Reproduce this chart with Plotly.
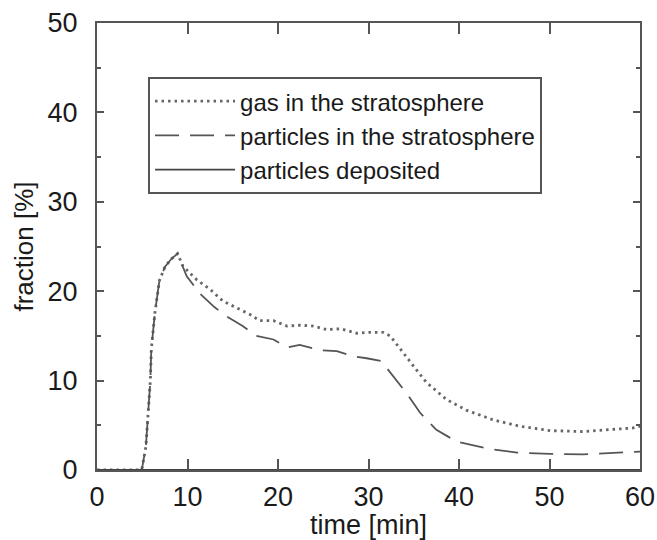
import plotly.graph_objects as go

# ---- data ----
t_gas = [0, 4.9, 5.0, 5.4, 5.9, 6.0, 6.4, 6.9, 7.5, 8.2, 8.9, 9.5, 11.0, 12.5, 13.9,
         15.8, 16.9, 18.0, 19.5, 21.0, 22.4, 23.9, 25.4, 26.9, 28.7, 30.0, 31.6,
         32.4, 33.8, 35.3, 36.4, 38.6, 40.8, 43.8, 46.7, 50.1, 53.7, 56.7, 59.2, 60]
gas_strat = [0, 0, 0.3, 2.6, 10.1, 13.5, 17.6, 21.2, 22.7, 23.6, 24.2, 22.8, 21.3, 20.2,
             18.9, 18.0, 17.4, 16.7, 16.7, 16.1, 16.2, 16.1, 15.7, 15.8, 15.3, 15.4,
             15.4, 15.0, 13.1, 11.2, 9.8, 7.9, 6.7, 5.6, 4.9, 4.4, 4.3, 4.5, 4.7, 4.9]

t_part = [0, 4.9, 5.0, 5.4, 5.9, 6.0, 6.4, 6.9, 7.5, 8.2, 8.9, 9.9, 11.4, 13.0, 14.3,
          16.1, 17.6, 19.5, 21.0, 22.4, 24.6, 26.5, 28.3, 29.8, 31.4, 32.7, 34.2,
          35.7, 37.5, 39.7, 43.1, 46.4, 50.1, 53.7, 57.4, 60]
part_strat = [0, 0, 0.3, 2.6, 10.1, 13.5, 17.6, 21.2, 22.7, 23.6, 24.2, 21.7, 19.7,
              18.2, 17.2, 16.1, 15.0, 14.6, 13.7, 14.0, 13.4, 13.3, 12.7, 12.5, 12.2,
              10.5, 8.6, 6.4, 4.5, 3.2, 2.4, 1.95, 1.8, 1.75, 1.9, 2.05]

t_dep = [0, 30, 60]
part_dep = [0, 0, 0]

x_ticks = [0, 10, 20, 30, 40, 50, 60]
y_ticks = [0, 10, 20, 30, 40, 50]

fig = go.Figure()
fig.add_trace(go.Scatter(x=t_gas, y=gas_strat, mode="lines", name="gas in the stratosphere",
                         line=dict(color="#666666", width=2.8, dash="2.5px,4px")))
fig.add_trace(go.Scatter(x=t_part, y=part_strat, mode="lines", name="particles in the stratosphere",
                         line=dict(color="#555555", width=1.8, dash="24px,11px")))
fig.add_trace(go.Scatter(x=t_dep, y=part_dep, mode="lines", name="particles deposited",
                         line=dict(color="#444444", width=1.8)))

fam = "Liberation Sans, Arial, sans-serif"
font = dict(family=fam, size=27, color="#1a1a1a")

fig.update_layout(
    width=657, height=540,
    margin=dict(l=97, r=17, t=23, b=70),
    paper_bgcolor="white", plot_bgcolor="white",
    font=font,
    showlegend=True,
    legend=dict(x=0.094, y=0.879, xanchor="left", yanchor="top",
                bordercolor="#555555", borderwidth=2, bgcolor="white",
                font=dict(family=fam, size=24, color="#1a1a1a"),
                itemwidth=80, tracegroupgap=0),
    xaxis=dict(range=[0, 60], tickvals=x_ticks, ticktext=[str(v) for v in x_ticks],
               ticks="inside", ticklen=11, tickwidth=2, tickcolor="#555555",
               showline=True, linecolor="#555555", linewidth=2, mirror="allticks",
               showgrid=False, zeroline=False, automargin=False,
               tickfont=dict(family=fam, size=27),
               title=dict(text="time [min]", standoff=3, font=dict(family=fam, size=27)),
               ticklabelstandoff=2),
    yaxis=dict(range=[0, 50], tickvals=y_ticks, ticktext=[str(v) for v in y_ticks],
               ticks="inside", ticklen=7, tickwidth=2, tickcolor="#555555",
               minor=dict(dtick=5, tick0=0, ticks="inside", ticklen=4, tickwidth=1.5, tickcolor="#555555"),
               showline=True, linecolor="#555555", linewidth=2, mirror="allticks",
               showgrid=False, zeroline=False, automargin=False,
               tickfont=dict(family=fam, size=27),
               title=dict(text="fraction [%]", standoff=6, font=dict(family=fam, size=26)),
               ticklabelstandoff=12),
)

fig.write_html("out.html")
